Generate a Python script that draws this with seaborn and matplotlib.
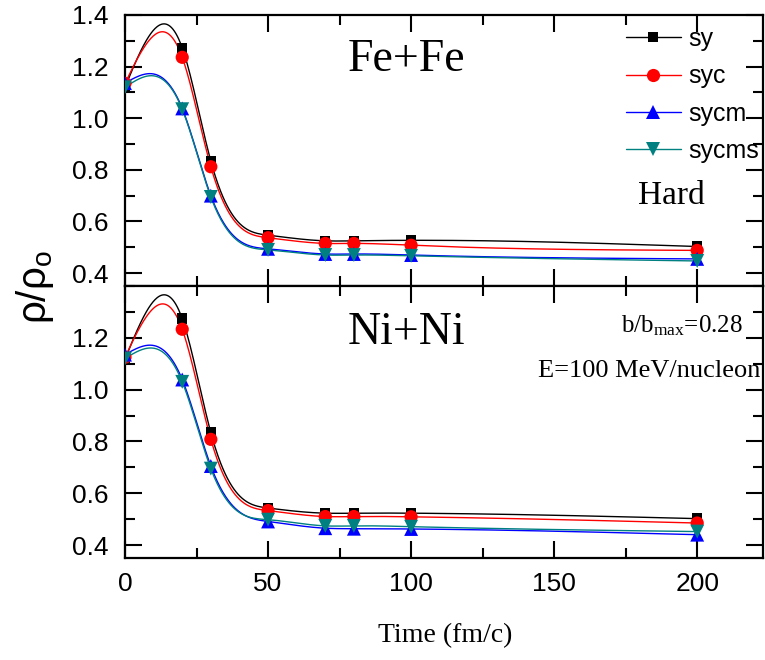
import numpy as np
import pandas as pd
import matplotlib
matplotlib.use("Agg")
import matplotlib.pyplot as plt
from matplotlib.lines import Line2D
from matplotlib.ticker import MultipleLocator, FixedLocator
import seaborn as sns

# ---- data ----
time = [0, 20, 30, 50, 70, 80, 100, 200]
series = ["sy", "syc", "sycm", "sycms"]

fe_sy = [1.120, 1.273, 0.834, 0.547, 0.525, 0.525, 0.527, 0.503]
fe_syc = [1.135, 1.236, 0.812, 0.537, 0.515, 0.515, 0.508, 0.488]
fe_sycm = [1.136, 1.038, 0.700, 0.494, 0.474, 0.474, 0.470, 0.455]
fe_sycms = [1.120, 1.035, 0.695, 0.490, 0.470, 0.470, 0.467, 0.447]

ni_sy = [1.117, 1.274, 0.834, 0.543, 0.523, 0.523, 0.523, 0.502]
ni_syc = [1.125, 1.233, 0.808, 0.533, 0.510, 0.510, 0.509, 0.485]
ni_sycm = [1.135, 1.039, 0.705, 0.491, 0.465, 0.463, 0.462, 0.440]
ni_sycms = [1.120, 1.030, 0.695, 0.498, 0.474, 0.474, 0.471, 0.452]

x_ticks = [0, 50, 100, 150, 200]
top_yticks = [0.4, 0.6, 0.8, 1.0, 1.2, 1.4]
bottom_yticks = [0.4, 0.6, 0.8, 1.0, 1.2]

colors = {"sy": "black", "syc": "#ff0000", "sycm": "#0000ff", "sycms": "#008080"}
markers = {"sy": "s", "syc": "o", "sycm": "^", "sycms": "v"}
msizes = {"sy": 7.5, "syc": 9.5, "sycm": 10, "sycms": 10}


def natural_spline(x, y, xs):
    x = np.asarray(x, float)
    y = np.asarray(y, float)
    n = len(x)
    h = np.diff(x)
    A = np.zeros((n, n))
    r = np.zeros(n)
    A[0, 0] = 1.0
    A[-1, -1] = 1.0
    for i in range(1, n - 1):
        A[i, i - 1] = h[i - 1]
        A[i, i] = 2 * (h[i - 1] + h[i])
        A[i, i + 1] = h[i]
        r[i] = 6 * ((y[i + 1] - y[i]) / h[i] - (y[i] - y[i - 1]) / h[i - 1])
    M = np.linalg.solve(A, r)
    idx = np.clip(np.searchsorted(x, xs) - 1, 0, n - 2)
    x0, x1 = x[idx], x[idx + 1]
    hh = x1 - x0
    return (M[idx] * (x1 - xs) ** 3 / (6 * hh) + M[idx + 1] * (xs - x0) ** 3 / (6 * hh)
            + (y[idx] / hh - M[idx] * hh / 6) * (x1 - xs)
            + (y[idx + 1] / hh - M[idx + 1] * hh / 6) * (xs - x0))


sns.set_style("white")
plt.rcParams["font.family"] = ["Liberation Sans", "DejaVu Sans"]
plt.rcParams["text.color"] = "black"
plt.rcParams["xtick.color"] = "black"
plt.rcParams["ytick.color"] = "black"
plt.rcParams["mathtext.fontset"] = "custom"
plt.rcParams["mathtext.rm"] = "Liberation Serif"
plt.rcParams["mathtext.sf"] = "Liberation Sans"
plt.rcParams["mathtext.it"] = "Liberation Serif:italic"

fig = plt.figure(figsize=(7.65, 6.6), dpi=100)
left, width = 125 / 765, 638 / 765
ax_top = fig.add_axes([left, 1 - 286 / 660, width, 271 / 660])
ax_bot = fig.add_axes([left, 1 - 558 / 660, width, 272 / 660])

panels = [
    (ax_top, {"sy": fe_sy, "syc": fe_syc, "sycm": fe_sycm, "sycms": fe_sycms}),
    (ax_bot, {"sy": ni_sy, "syc": ni_syc, "sycm": ni_sycm, "sycms": ni_sycms}),
]

xs = np.linspace(0, 200, 801)
for ax, data in panels:
    for s in series:
        curve = pd.DataFrame({"t": xs, "v": natural_spline(time, data[s], xs)})
        sns.lineplot(data=curve, x="t", y="v", ax=ax, color=colors[s], lw=1.0,
                     sort=False, estimator=None, legend=False, zorder=2)
    for s in series:
        pts = pd.DataFrame({"t": time, "v": data[s]})
        sns.scatterplot(data=pts, x="t", y="v", ax=ax, color=colors[s], marker=markers[s],
                        s=msizes[s] ** 2, edgecolor="none", legend=False, zorder=3)
    ax.set_xlim(0, 223)
    ax.set_ylim(0.35, 1.4)
    ax.set_xlabel("")
    ax.set_ylabel("")
    ax.xaxis.set_major_locator(FixedLocator(x_ticks))
    ax.xaxis.set_minor_locator(MultipleLocator(25))
    ax.yaxis.set_minor_locator(MultipleLocator(0.1))
    ax.tick_params(which="both", direction="in", top=True, right=True, bottom=True,
                   left=True, width=1.5, labelsize=19, colors="black")
    ax.tick_params(which="major", length=12)
    ax.tick_params(which="minor", length=7)
    ax.tick_params(axis="x", pad=10)
    ax.tick_params(axis="y", pad=12)
    for sp in ax.spines.values():
        sp.set_linewidth(1.6)
        sp.set_color("black")

ax_top.set_yticks(top_yticks)
ax_top.set_yticklabels([f"{v:.1f}" for v in top_yticks])
ax_top.tick_params(axis="x", labelbottom=False)
ax_bot.set_yticks(bottom_yticks)
ax_bot.set_yticklabels([f"{v:.1f}" for v in bottom_yticks])
ax_bot.set_xticklabels([str(v) for v in x_ticks])

# legend
handles = [Line2D([0], [0], color=colors[s], lw=1.0, marker=markers[s],
                  markersize=msizes[s], markeredgewidth=0) for s in series]
ax_top.legend(handles, series, loc="upper left", bbox_to_anchor=(0.785, 0.955),
              frameon=False, fontsize=18, handlelength=2.2, handletextpad=0.3,
              labelspacing=0.53, borderpad=0, borderaxespad=0)

serif = ["Liberation Serif", "DejaVu Serif"]
ax_top.text(0.4415, 0.794, "Fe+Fe", transform=ax_top.transAxes, ha="center",
            va="baseline", fontsize=33, family=serif)
ax_top.text(0.857, 0.302, "Hard", transform=ax_top.transAxes, ha="center",
            va="baseline", fontsize=24, family=serif)
ax_bot.text(0.4415, 0.787, "Ni+Ni", transform=ax_bot.transAxes, ha="center",
            va="baseline", fontsize=33, family=serif)
ax_bot.text(0.969, 0.828, r"b/b$_{\mathrm{max}}$=0.28", transform=ax_bot.transAxes,
            ha="right", va="baseline", fontsize=18, family=serif)
ax_bot.text(0.996, 0.665, "E=100 MeV/nucleon", transform=ax_bot.transAxes,
            ha="right", va="baseline", fontsize=19, family=serif)

fig.text(35 / 765, 1 - 287 / 660, r"$\mathsf{\rho/\rho_o}$", rotation=90,
         ha="center", va="center", fontsize=29)
fig.text(445 / 765, 1 - 636 / 660, "Time (fm/c)", ha="center", va="center",
         fontsize=20, family=serif)

fig.savefig("out.png", dpi=100)
